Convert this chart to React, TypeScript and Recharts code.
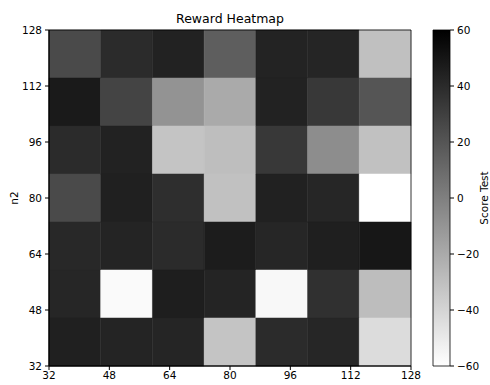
import { ComposedChart, XAxis, YAxis, ReferenceArea, Label } from "recharts";

const axisTicks = [32, 48, 64, 80, 96, 112, 128];
const colorTicks = [-60, -40, -20, 0, 20, 40, 60];

// score test per cell, top row (high n2) first, left to right
const scoreRows = [
  [25, 40, 44, 16, 43.5, 42.5, -30.5],
  [48, 28, -9, -20, 44, 33.5, 20],
  [40, 44, -32, -29.5, 33.5, -6.5, -31],
  [25, 45, 38.5, -31, 44.5, 42, -60],
  [41, 43, 40, 47, 42, 45.5, 49],
  [42, -57.5, 46, 43, -56.5, 37.5, -29],
  [45, 43, 42.5, -32, 40, 42, -43.5],
];

const axisMin = 32;
const axisMax = 128;
const scoreMin = -60;
const scoreMax = 60;

// gray_r: low score = white, high score = black
function grayFor(v: number) {
  const t = Math.min(1, Math.max(0, (scoreMax - v) / (scoreMax - scoreMin)));
  const g = Math.round(255 * t);
  return `rgb(${g},${g},${g})`;
}

const nRows = scoreRows.length;
const nCols = scoreRows[0].length;
const cellW = (axisMax - axisMin) / nCols;
const cellH = (axisMax - axisMin) / nRows;

const cells = scoreRows.flatMap((row, r) =>
  row.map((v, c) => ({
    x1: axisMin + c * cellW,
    x2: axisMin + (c + 1) * cellW,
    y1: axisMax - (r + 1) * cellH,
    y2: axisMax - r * cellH,
    color: grayFor(v),
  }))
);

const tickStyle = { fill: "#000", fontSize: 10.5 };
const minus = (v: number) => String(v).replace("-", "\u2212");

export default function App() {
  return (
    <div
      style={{
        position: "absolute",
        left: 0,
        top: 0,
        width: 490,
        height: 385,
        background: "#fff",
        fontFamily: "DejaVu Sans, sans-serif",
      }}
    >
      <div
        style={{
          position: "absolute",
          left: 49,
          width: 362,
          top: 11,
          textAlign: "center",
          fontSize: 12.5,
          color: "#000",
        }}
      >
        Reward Heatmap
      </div>

      <div style={{ position: "absolute", left: 0, top: 0 }}>
        <ComposedChart
          width={430}
          height={385}
          margin={{ top: 30, right: 19, bottom: 0, left: 0 }}
        >
          <XAxis
            type="number"
            dataKey="x"
            domain={[axisMin, axisMax]}
            ticks={axisTicks}
            interval={0}
            allowDataOverflow
            height={19}
            tickSize={4}
            tickMargin={2}
            axisLine={{ stroke: "#000" }}
            tickLine={{ stroke: "#000" }}
            tick={tickStyle}
          />
          <YAxis
            type="number"
            dataKey="y"
            domain={[axisMin, axisMax]}
            ticks={axisTicks}
            interval={0}
            allowDataOverflow
            width={49}
            tickSize={4}
            tickMargin={3}
            axisLine={{ stroke: "#000" }}
            tickLine={{ stroke: "#000" }}
            tick={tickStyle}
          >
            <Label
              content={({ viewBox }: any) => {
                const cy = viewBox.y + viewBox.height / 2;
                return (
                  <text
                    x={viewBox.x + 14}
                    y={cy}
                    transform={`rotate(-90 ${viewBox.x + 14} ${cy})`}
                    textAnchor="middle"
                    dominantBaseline="central"
                    fontSize={10.5}
                    fill="#000"
                  >
                    n2
                  </text>
                );
              }}
            />
          </YAxis>
          {cells.map((cell, i) => (
            <ReferenceArea
              key={i}
              x1={cell.x1}
              x2={cell.x2}
              y1={cell.y1}
              y2={cell.y2}
              fill={cell.color}
              fillOpacity={1}
              stroke={cell.color}
              strokeWidth={0.5}
            />
          ))}
          <ReferenceArea
            x1={axisMin}
            x2={axisMax}
            y1={axisMin}
            y2={axisMax}
            fill="none"
            fillOpacity={0}
            stroke="#000"
            strokeWidth={0.8}
          />
        </ComposedChart>
      </div>

      <div style={{ position: "absolute", left: 420, top: 0 }}>
        <ComposedChart
          width={70}
          height={385}
          margin={{ top: 30, right: 0, bottom: 19, left: 13 }}
        >
          <defs>
            <linearGradient id="scoreGrad" x1="0" y1="0" x2="0" y2="1">
              <stop offset="0%" stopColor="#000" />
              <stop offset="100%" stopColor="#fff" />
            </linearGradient>
          </defs>
          <XAxis
            type="number"
            dataKey="x"
            domain={[0, 1]}
            ticks={[0, 1]}
            allowDataOverflow
            height={0}
            tick={false}
            tickLine={false}
            axisLine={false}
          />
          <YAxis
            type="number"
            dataKey="v"
            orientation="right"
            domain={[scoreMin, scoreMax]}
            ticks={colorTicks}
            interval={0}
            allowDataOverflow
            width={40}
            tickSize={4}
            tickMargin={3}
            axisLine={false}
            tickLine={{ stroke: "#000" }}
            tick={tickStyle}
            tickFormatter={minus}
          >
            <Label
              content={({ viewBox }: any) => {
                const cx = viewBox.x + 34;
                const cy = viewBox.y + viewBox.height / 2;
                return (
                  <text
                    x={cx}
                    y={cy}
                    transform={`rotate(-90 ${cx} ${cy})`}
                    textAnchor="middle"
                    dominantBaseline="central"
                    fontSize={10.5}
                    fill="#000"
                  >
                    Score Test
                  </text>
                );
              }}
            />
          </YAxis>
          <ReferenceArea
            x1={0}
            x2={1}
            y1={scoreMin}
            y2={scoreMax}
            fill="url(#scoreGrad)"
            fillOpacity={1}
            stroke="#000"
            strokeWidth={0.8}
          />
        </ComposedChart>
      </div>
    </div>
  );
}
